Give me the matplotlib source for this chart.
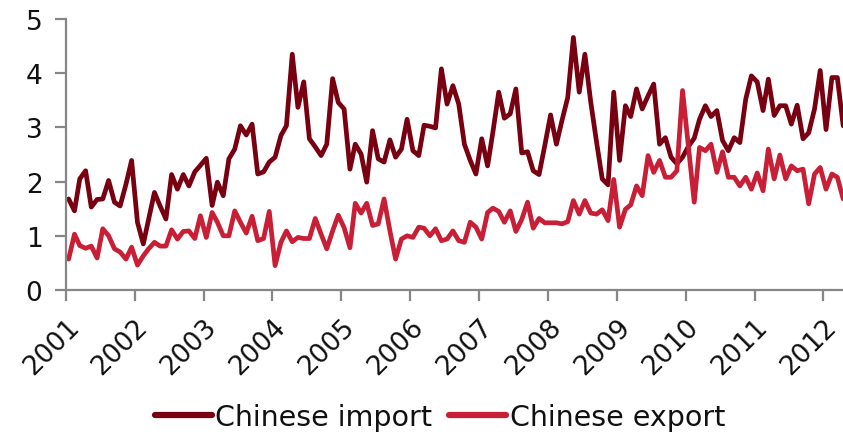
import matplotlib
matplotlib.use("Agg")
import matplotlib.pyplot as plt
import pandas as pd

start_month = "2001-01-01"
years = list(range(2001, 2013))
year_labels = [str(y) for y in years]

chinese_import = [
    1.68, 1.46, 2.05, 2.20, 1.53, 1.67, 1.68, 2.02, 1.62, 1.55, 1.95, 2.39,  # 2001
    1.25, 0.85, 1.30, 1.80, 1.55, 1.31, 2.13, 1.86, 2.13, 1.92, 2.18, 2.30,  # 2002
    2.43, 1.56, 1.99, 1.74, 2.42, 2.60, 3.03, 2.86, 3.06, 2.14, 2.18, 2.36,  # 2003
    2.45, 2.85, 3.03, 4.35, 3.37, 3.84, 2.79, 2.64, 2.48, 2.69, 3.90, 3.46,  # 2004
    3.34, 2.23, 2.69, 2.51, 1.99, 2.94, 2.42, 2.36, 2.77, 2.45, 2.60, 3.15,  # 2005
    2.57, 2.48, 3.04, 3.02, 2.99, 4.08, 3.43, 3.77, 3.43, 2.69, 2.39, 2.14,  # 2006
    2.79, 2.29, 2.91, 3.65, 3.17, 3.25, 3.71, 2.53, 2.55, 2.20, 2.13, 2.66,  # 2007
    3.23, 2.69, 3.12, 3.55, 4.66, 3.65, 4.35, 3.47, 2.73, 2.05, 1.94, 3.65,  # 2008
    2.39, 3.40, 3.20, 3.71, 3.34, 3.58, 3.80, 2.69, 2.81, 2.45, 2.33, 2.45,  # 2009
    2.65, 2.80, 3.15, 3.40, 3.20, 3.31, 2.76, 2.57, 2.81, 2.72, 3.52, 3.95,  # 2010
    3.84, 3.31, 3.89, 3.22, 3.40, 3.40, 3.06, 3.41, 2.79, 2.90, 3.34, 4.05,  # 2011
    2.96, 3.92, 3.92, 3.03,                                                  # 2012
]

chinese_export = [
    0.57, 1.03, 0.82, 0.77, 0.81, 0.59, 1.13, 1.00, 0.76, 0.70, 0.57, 0.79,  # 2001
    0.46, 0.63, 0.76, 0.88, 0.81, 0.81, 1.11, 0.94, 1.08, 1.09, 0.95, 1.37,  # 2002
    0.97, 1.43, 1.25, 1.00, 1.00, 1.46, 1.25, 1.05, 1.36, 0.91, 0.95, 1.45,  # 2003
    0.45, 0.88, 1.09, 0.89, 0.97, 0.95, 0.95, 1.32, 1.03, 0.76, 1.09, 1.38,  # 2004
    1.15, 0.78, 1.60, 1.42, 1.60, 1.19, 1.22, 1.68, 1.09, 0.57, 0.94, 1.00,  # 2005
    0.97, 1.16, 1.14, 1.00, 1.13, 0.91, 0.94, 1.09, 0.91, 0.88, 1.25, 1.16,  # 2006
    0.94, 1.43, 1.51, 1.45, 1.25, 1.46, 1.08, 1.30, 1.62, 1.14, 1.32, 1.24,  # 2007
    1.24, 1.24, 1.22, 1.26, 1.65, 1.40, 1.65, 1.42, 1.40, 1.48, 1.28, 2.04,  # 2008
    1.16, 1.49, 1.57, 1.92, 1.74, 2.48, 2.17, 2.39, 2.08, 2.08, 2.20, 3.68,  # 2009
    2.65, 1.62, 2.63, 2.57, 2.69, 2.17, 2.55, 2.08, 2.08, 1.92, 2.08, 1.86,  # 2010
    2.16, 1.83, 2.60, 2.05, 2.49, 2.05, 2.29, 2.20, 2.23, 1.59, 2.14, 2.26,  # 2011
    1.86, 2.14, 2.08, 1.68,                                                  # 2012
]

series_names = ["Chinese import", "Chinese export"]
colors = ["#780010", "#C81E36"]

dates = pd.date_range(start_month, periods=len(chinese_import), freq="MS") + pd.Timedelta(days=14)

plt.rcParams["font.family"] = ["DejaVu Sans"]

fig = plt.figure(figsize=(8.43, 4.35), dpi=100)
ax = fig.add_axes([66 / 843, 1 - 291 / 435, (843 - 66) / 843, (291 - 20) / 435])

ax.plot(dates, chinese_import, color=colors[0], lw=3.4, label=series_names[0],
        solid_joinstyle="round", solid_capstyle="round")
ax.plot(dates, chinese_export, color=colors[1], lw=3.4, label=series_names[1],
        solid_joinstyle="round", solid_capstyle="round")

ax.set_ylim(0, 5)
ax.set_yticks(range(0, 6))
ax.set_xlim(pd.Timestamp("2001-01-01"), pd.Timestamp("2012-04-14"))
ax.set_xticks([pd.Timestamp(f"{y}-01-01") for y in years])
ax.set_xticklabels(year_labels, rotation=45, ha="right", va="top", rotation_mode="anchor")

for s in ["top", "right"]:
    ax.spines[s].set_visible(False)
for s in ["left", "bottom"]:
    ax.spines[s].set_color("#868686")
    ax.spines[s].set_linewidth(1.6)

ax.tick_params(axis="both", colors="#868686", width=1.6, length=8, labelcolor="#111111")
ax.tick_params(axis="y", pad=9, labelsize=19)
ax.tick_params(axis="x", pad=9, labelsize=19)

leg = fig.legend(loc="center", bbox_to_anchor=(440 / 843, 1 - 418 / 435), ncol=2,
                 frameon=False, fontsize=20.5, handlelength=2.0, handletextpad=0.12,
                 columnspacing=0.6, labelcolor="#111111")
for line in leg.get_lines():
    line.set_linewidth(4.5)

fig.savefig("out.png", dpi=100)
